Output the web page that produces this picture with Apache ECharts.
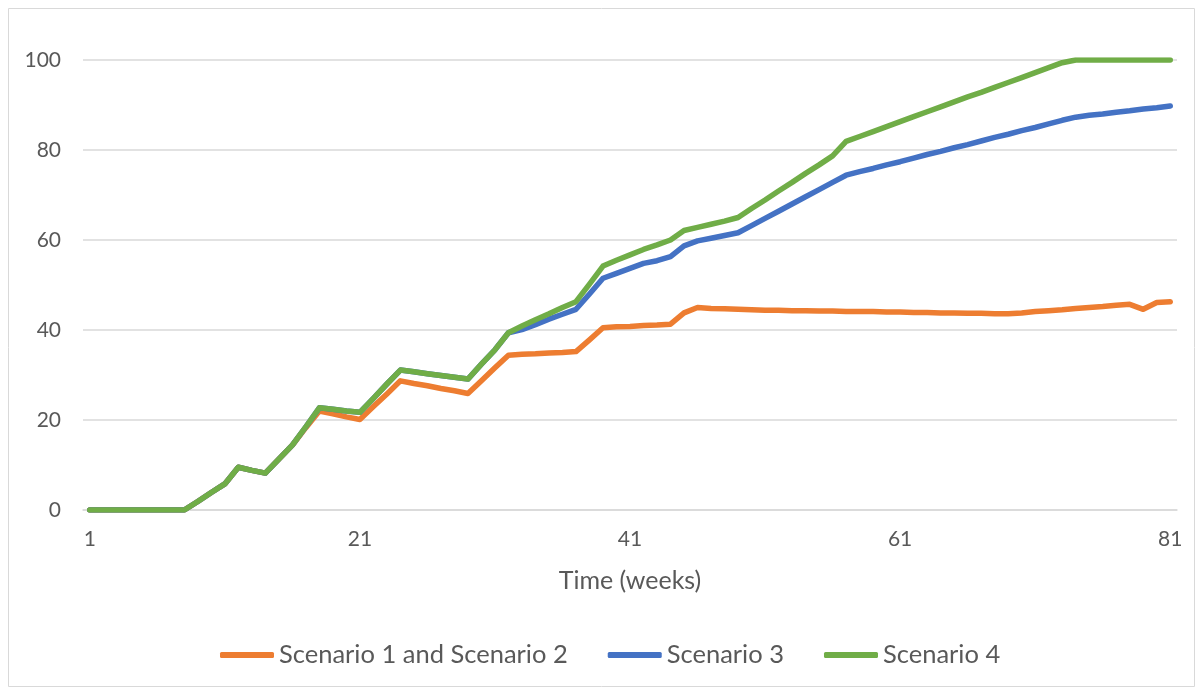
<!DOCTYPE html>
<html>
<head>
<meta charset="utf-8">
<script src="https://cdn.jsdelivr.net/npm/echarts@6/dist/echarts.min.js"></script>
<style>
  html, body { margin: 0; padding: 0; background: #ffffff; }
  #chart { width: 1203px; height: 691px; }
</style>
</head>
<body>
<div id="chart"></div>
<script>
// Week numbers along the horizontal axis
const weeks = Array.from({ length: 81 }, (_, i) => String(i + 1));

const seriesNames = ['Scenario 1 and Scenario 2', 'Scenario 3', 'Scenario 4'];

const scenario12 = [
  0, 0, 0, 0, 0, 0, 0, 0, 1.9, 3.9,
  5.8, 9.5, 8.8, 8.2, 11.3, 14.4, 18.3, 22.0, 21.4, 20.7,
  20.1, 23.0, 25.8, 28.7, 28.1, 27.6, 27.0, 26.5, 25.9, 28.7,
  31.6, 34.4, 34.6, 34.7, 34.9, 35.0, 35.2, 37.8, 40.5, 40.7,
  40.8, 41.0, 41.1, 41.3, 43.8, 45.0, 44.8, 44.7, 44.6, 44.5,
  44.4, 44.4, 44.3, 44.3, 44.2, 44.2, 44.1, 44.1, 44.1, 44.0,
  44.0, 43.9, 43.9, 43.8, 43.8, 43.7, 43.7, 43.6, 43.6, 43.8,
  44.1, 44.3, 44.5, 44.8, 45.0, 45.2, 45.5, 45.7, 44.6, 46.1,
  46.3
];

const scenario3 = [
  0, 0, 0, 0, 0, 0, 0, 0, 1.9, 3.9,
  5.8, 9.5, 8.8, 8.2, 11.3, 14.4, 18.5, 22.7, 22.4, 22.0,
  21.7, 24.8, 28.0, 31.1, 30.7, 30.3, 29.9, 29.5, 29.1, 32.4,
  35.6, 39.4, 40.1, 41.2, 42.4, 43.5, 44.6, 48.0, 51.5, 52.6,
  53.7, 54.8, 55.4, 56.3, 58.7, 59.8, 60.4, 61.0, 61.6, 63.2,
  64.8, 66.4, 68.0, 69.6, 71.2, 72.8, 74.4, 75.2, 75.9, 76.7,
  77.4, 78.2, 79.0, 79.7, 80.5, 81.2, 82.0, 82.8, 83.5, 84.3,
  85.0, 85.8, 86.6, 87.3, 87.7, 88.0, 88.4, 88.7, 89.1, 89.4,
  89.8
];

const scenario4 = [
  0, 0, 0, 0, 0, 0, 0, 0, 1.9, 3.9,
  5.8, 9.5, 8.8, 8.2, 11.3, 14.4, 18.5, 22.7, 22.4, 22.0,
  21.7, 24.8, 28.0, 31.1, 30.7, 30.3, 29.9, 29.5, 29.1, 32.4,
  35.6, 39.4, 40.9, 42.3, 43.6, 45.0, 46.3, 50.2, 54.2, 55.5,
  56.7, 57.9, 58.9, 60.0, 62.1, 62.8, 63.5, 64.2, 65.0, 67.0,
  68.9, 70.9, 72.8, 74.8, 76.7, 78.7, 81.9, 83.0, 84.1, 85.2,
  86.3, 87.4, 88.5, 89.6, 90.7, 91.8, 92.8, 93.9, 95.0, 96.1,
  97.2, 98.3, 99.4, 100, 100, 100, 100, 100, 100, 100,
  100
];

const colors = ['#ED7D31', '#4472C4', '#70AD47'];
const textColor = '#595959';
const gridColor = '#d9d9d9';
const fontFamily = 'Lato, "Liberation Sans", sans-serif';

const chart = echarts.init(document.getElementById('chart'), null, { renderer: 'canvas' });

function lineSeries(name, data, color) {
  return {
    name: name,
    type: 'line',
    data: data,
    symbol: 'none',
    showSymbol: false,
    animation: false,
    lineStyle: { width: 5.5, color: color, cap: 'round', join: 'round' },
    itemStyle: { color: color }
  };
}

chart.setOption({
  animation: false,
  color: colors,
  textStyle: { fontFamily: fontFamily },
  graphic: [{
    type: 'rect',
    shape: { x: 8.5, y: 8.5, width: 1186, height: 678 },
    style: { fill: 'none', stroke: gridColor, lineWidth: 1 },
    silent: true
  }],
  grid: { left: 83, right: 26, top: 60, bottom: 181 },
  xAxis: {
    type: 'category',
    data: weeks,
    boundaryGap: true,
    name: 'Time (weeks)',
    nameLocation: 'middle',
    nameGap: 58,
    nameTextStyle: { color: textColor, fontSize: 25, fontFamily: fontFamily },
    axisLine: { show: true, lineStyle: { color: gridColor, width: 1.5 } },
    axisTick: { show: false },
    axisLabel: { interval: 19, color: textColor, fontSize: 21, margin: 19, fontFamily: fontFamily },
    splitLine: { show: false }
  },
  yAxis: {
    type: 'value',
    min: 0,
    max: 100,
    interval: 20,
    axisLine: { show: false },
    axisTick: { show: false },
    axisLabel: { color: textColor, fontSize: 21, margin: 22, fontFamily: fontFamily },
    splitLine: { lineStyle: { color: gridColor, width: 1.5 } }
  },
  legend: {
    data: seriesNames,
    left: 215,
    top: 637,
    itemWidth: 54,
    itemHeight: 6,
    itemGap: 40,
    icon: 'roundRect',
    textStyle: { color: textColor, fontSize: 25.5, fontFamily: fontFamily }
  },
  series: [
    lineSeries(seriesNames[0], scenario12, colors[0]),
    lineSeries(seriesNames[1], scenario3, colors[1]),
    lineSeries(seriesNames[2], scenario4, colors[2])
  ]
});
</script>
</body>
</html>
